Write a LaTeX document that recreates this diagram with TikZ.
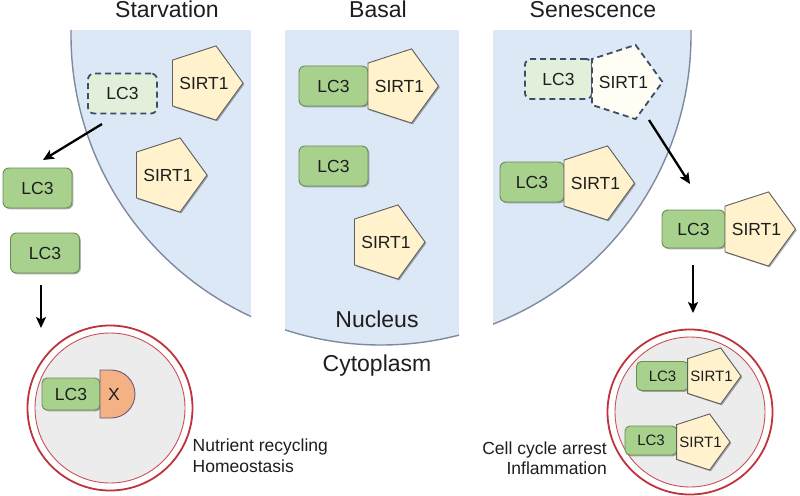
\documentclass[tikz,border=0pt]{standalone}
\usepackage{fontspec}
\setmainfont{Liberation Sans}
\usetikzlibrary{shapes.geometric,arrows.meta,shadows}
\definecolor{nucblue}{HTML}{DCE8F5}
\definecolor{nucedge}{HTML}{7D8AA0}
\definecolor{lcfill}{HTML}{A9D18E}
\definecolor{lcedge}{HTML}{6B8A55}
\definecolor{sfill}{HTML}{FFF2CC}
\definecolor{sedge}{HTML}{5F5F5F}
\definecolor{dashedge}{HTML}{3B4D6B}
\definecolor{dlcfill}{HTML}{E2EFDA}
\definecolor{dsfill}{HTML}{FFFDF4}
\definecolor{lysred}{HTML}{C0323C}
\definecolor{lysgray}{HTML}{ECECEC}
\definecolor{xfill}{HTML}{F4B183}
\definecolor{xedge}{HTML}{6A5A78}
\definecolor{txt}{HTML}{1E1E1E}
\newcommand{\ctrtxt}[1]{\smash{\raisebox{-0.358em}{\makebox[0pt]{#1}}}}
\begin{document}
\begin{tikzpicture}[x=1pt,y=-1pt,
  every node/.style={text=txt},
  shad/.style={drop shadow={shadow xshift=1.3pt,shadow yshift=-1.3pt,opacity=0.3,fill=black}},
  head/.style={font=\fontsize{23}{27}\selectfont, anchor=base, inner sep=0pt},
  note/.style={font=\fontsize{17.5}{21}\selectfont, inner sep=0pt},
  lcbase/.style={rectangle, rounded corners=6pt, minimum width=69pt, minimum height=40pt, inner sep=0pt, font=\fontsize{17.5}{20}\selectfont},
  lcbox/.style={lcbase, draw=lcedge, fill=lcfill, line width=0.9pt, shad},
  lcdash/.style={lcbase, draw=dashedge, fill=dlcfill, line width=1.8pt, dash pattern=on 6pt off 4pt},
  lcsmall/.style={lcbox, minimum width=52pt, minimum height=29pt, rounded corners=5pt, font=\fontsize{15}{18}\selectfont},
  sbase/.style={regular polygon, regular polygon sides=5, shape border rotate=-90, minimum size=78pt, inner sep=0pt, font=\fontsize{17.5}{20}\selectfont},
  sirt/.style={sbase, draw=sedge, fill=sfill, line width=0.9pt, shad},
  sdash/.style={sbase, draw=dashedge, fill=dsfill, line width=1.8pt, dash pattern=on 6pt off 4pt},
  ssmall/.style={sirt, minimum size=59pt, font=\fontsize{15}{18}\selectfont},
  arr/.style={line width=2.3pt, -{Stealth[length=11pt,width=10pt,inset=2.5pt]}},
  lysout/.style={circle, draw=lysred, line width=1.8pt, fill=white, minimum size=165pt, inner sep=0pt},
  lysin/.style={circle, draw=lysred!85, line width=0.9pt, fill=lysgray, minimum size=150pt, inner sep=0pt}
]
\useasboundingbox (0,0) rectangle (800,495);
\fill[white] (0,0) rectangle (800,495);

% nucleus strips
\begin{scope}
  \clip (381,35) circle (310);
  \fill[nucblue] (0,30) rectangle (251,400);
  \fill[nucblue] (285,30) rectangle (459,400);
  \fill[nucblue] (493,30) rectangle (800,400);
\end{scope}
\begin{scope}
  \clip (0,30) rectangle (251,400) (285,30) rectangle (459,400) (493,30) rectangle (800,400);
  \draw[nucedge, line width=1.4pt] (381,35) circle (310);
\end{scope}

% headings
\node[head] (hstarv) at (167,18) {Starvation};
\node[head] (hbasal) at (378,18) {Basal};
\node[head] (hsen) at (593,18) {Senescence};
\node[head] (hnuc) at (377,327) {Nucleus};
\node[head] (hcyt) at (377,371) {Cytoplasm};

% ---- Starvation ----
\node[lcdash] (sv_lcd) at (122.5,93.5) {LC3};
\node[sirt] (sv_s1) at (204,83) {\ctrtxt{SIRT1}};
\node[sirt] (sv_s2) at (168,175) {\ctrtxt{SIRT1}};
\node[lcbox] (sv_lc1) at (37.5,188) {LC3};
\node[lcbox] (sv_lc2) at (45,253) {LC3};
\coordinate (sv_a1s) at (102,124);
\coordinate (sv_a1e) at (43,160);
\draw[arr] (sv_a1s) -- (sv_a1e);
\coordinate (sv_a2s) at (41,285);
\coordinate (sv_a2e) at (41,328);
\draw[arr] (sv_a2s) -- (sv_a2e);
\node[lysout] (lys1) at (110,408) {};
\node[lysin] (lys1i) at (lys1) {};
\node[lcbox, minimum width=58pt, minimum height=32pt, rounded corners=5pt] (sv_lc3) at (71,394) {LC3};
\draw[xedge, fill=xfill, line width=0.9pt] (100,370) -- (111,370) arc[start angle=-90, end angle=90, radius=24] -- (100,418) -- cycle;
\node[font=\fontsize{17.5}{20}\selectfont] (xlab) at (114,394) {X};
\node[note, anchor=base west] (sv_t1) at (192.5,451) {Nutrient recycling};
\node[note, anchor=base west] (sv_t2) at (192.5,472.5) {Homeostasis};

% ---- Basal ----
\node[lcbox] (b_lc1) at (333.5,86) {LC3};
\node[sirt] (b_s1) at (399.5,86) {\ctrtxt{SIRT1}};
\node[lcbox] (b_lc2) at (333.5,166) {LC3};
\node[sirt] (b_s2) at (386,242) {\ctrtxt{SIRT1}};

% ---- Senescence ----
\node[lcdash, minimum width=67pt] (se_lcd) at (558.5,79) {LC3};
\node[sdash] (se_sd) at (623.5,82) {\ctrtxt{SIRT1}};
\node[lcbox, minimum width=64pt] (se_lc1) at (532,182) {LC3};
\node[sirt] (se_s1) at (595.5,183) {\ctrtxt{SIRT1}};
\coordinate (se_a1s) at (649,120);
\coordinate (se_a1e) at (690,184);
\draw[arr] (se_a1s) -- (se_a1e);
\node[lcbox, minimum width=63pt, minimum height=38pt] (se_lc2) at (693.5,229) {LC3};
\node[sirt] (se_s2) at (756.5,229) {\ctrtxt{SIRT1}};
\coordinate (se_a2s) at (693,265);
\coordinate (se_a2e) at (693,313);
\draw[arr] (se_a2s) -- (se_a2e);
\node[lysout] (lys2) at (690,412) {};
\node[lysin] (lys2i) at (lys2) {};
\node[lcsmall] (se_lc3) at (662.5,376) {LC3};
\node[ssmall] (se_s3) at (711.5,376) {\ctrtxt{SIRT1}};
\node[lcsmall] (se_lc4) at (651,440.5) {LC3};
\node[ssmall] (se_s4) at (700.5,442) {\ctrtxt{SIRT1}};
\node[note, anchor=base east] (se_t1) at (607,454) {Cell cycle arrest};
\node[note, anchor=base east] (se_t2) at (607,474) {Inflammation};
\end{tikzpicture}
\end{document}
